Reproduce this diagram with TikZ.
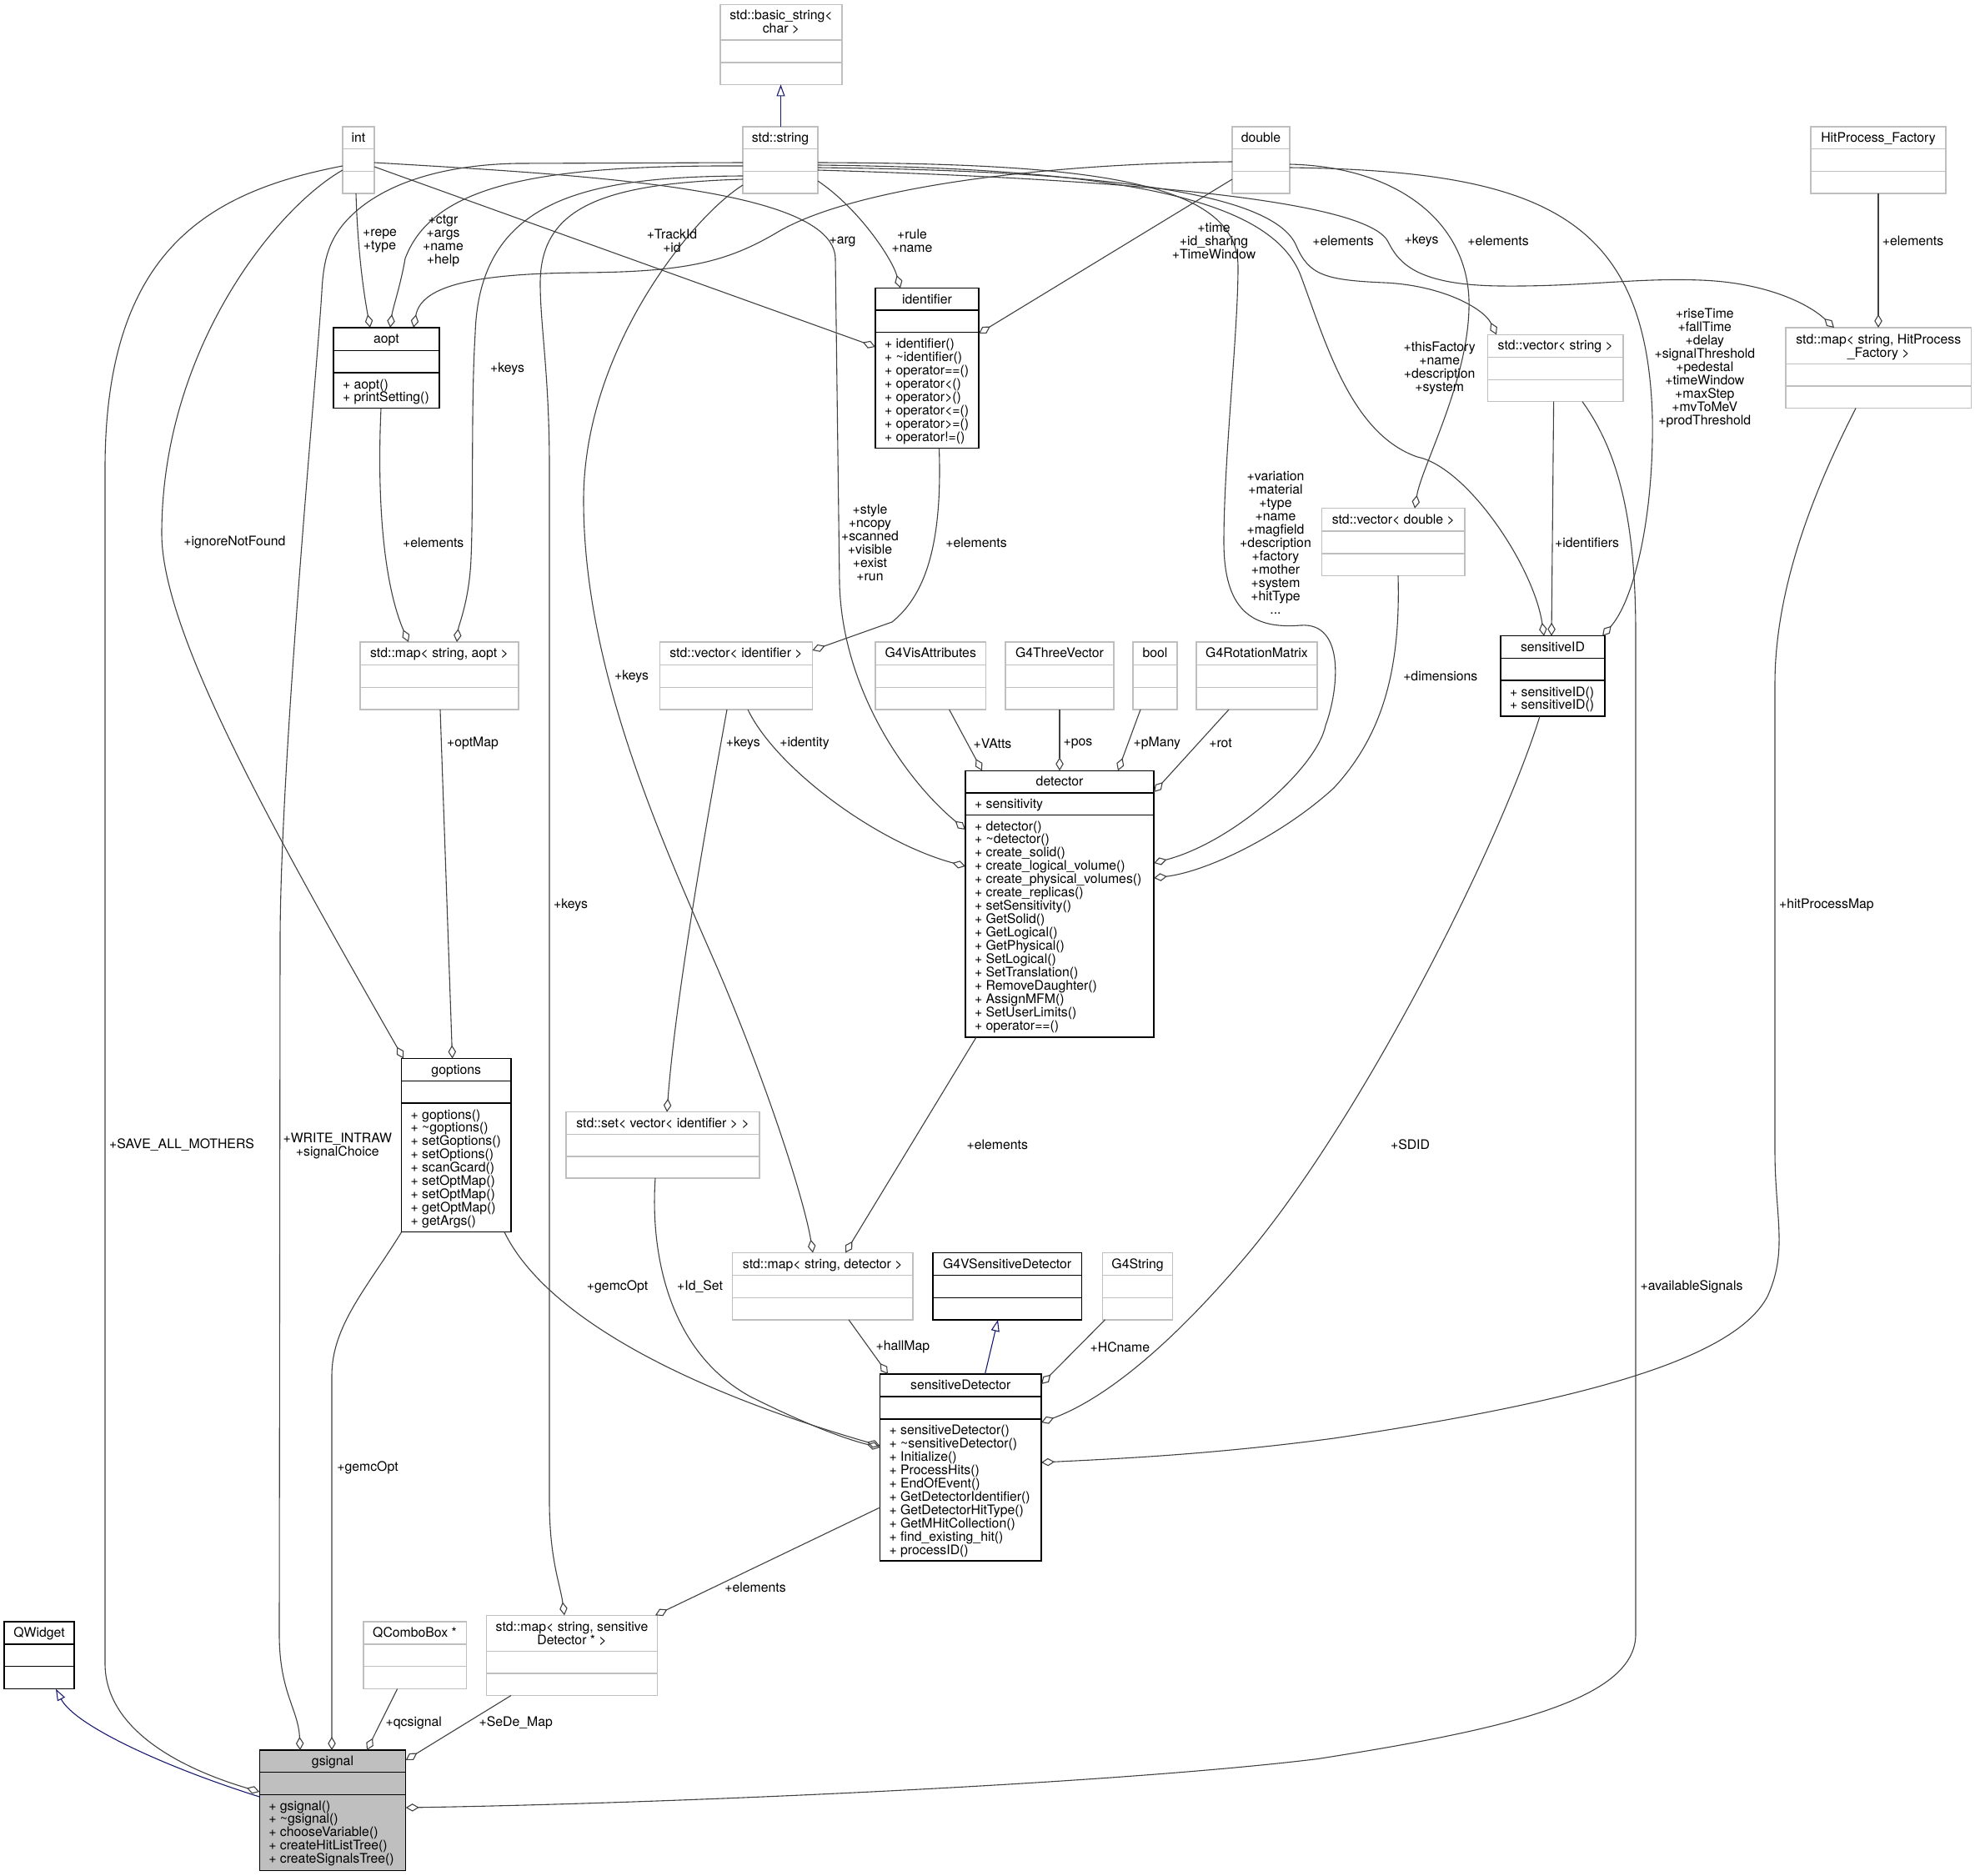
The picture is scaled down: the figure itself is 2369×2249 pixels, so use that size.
\documentclass[tikz,border=0pt]{standalone}
\usepackage{fontspec}
\setmainfont{TeX Gyre Heros}
\usetikzlibrary{arrows.meta}
\definecolor{grey75}{HTML}{BFBFBF}
\definecolor{edgec}{HTML}{404040}
\definecolor{navyc}{HTML}{191970}
\tikzset{
  txt/.style={font=\fontsize{15.8}{15.95}\selectfont, inner sep=0pt, outer sep=0pt},
  lab/.style={txt, align=center},
  ext/.style={draw=grey75, fill=white, line width=1.4pt, rectangle, inner sep=0pt, outer sep=0pt},
  extsep/.style={draw=grey75, line width=1.4pt},
  doc/.style={draw=black, fill=white, line width=1.4pt, rectangle, inner sep=0pt, outer sep=0pt},
  docsep/.style={draw=black, line width=1.4pt},
  sig/.style={doc, fill=grey75},
  sigsep/.style={docsep},
  agg/.style={draw=edgec, line width=1.1pt, -{Diamond[open, length=16pt, width=9.5pt]}},
  inh/.style={draw=navyc, line width=1.1pt, -{Triangle[open, length=14pt, width=10pt]}},
}
\newcommand{\umlclass}[8][ext]{%
  \node[#1, anchor=north west, minimum width={(#5-#3)*1pt}, minimum height={(#6-#4)*1pt}] (#2) at (#3,#4) {};
  \draw[#1sep] (#3,#7) -- (#5,#7);
  \draw[#1sep] (#3,#8) -- (#5,#8);
}
\newcommand{\ctitle}[3]{\node[txt, anchor=base] at (#1,#2) {#3};}
\newcommand{\mlist}[3]{\foreach \mm [count=\ii] in {#3} {\node[txt, anchor=base west] at (#1, {#2+(\ii-1)*15.95}) {\mm};}}
\begin{document}
\begin{tikzpicture}[x=1pt,y=-1pt]
\useasboundingbox (0,0) rectangle (2369,2249);

% ---------------- classes ----------------
\umlclass{nBasic}{864}{5.4}{1010}{101.4}{48}{75}
\ctitle{937}{23}{std::basic\_string<}
\ctitle{937}{39}{char >}
\umlclass{nStr}{891}{152}{981}{232}{178.5}{205.5}
\ctitle{936}{170.5}{std::string}
\umlclass{nInt}{411}{152}{449}{232}{178.5}{205.5}
\ctitle{430}{170.5}{int}
\umlclass{nDbl}{1478}{152}{1547}{232}{178.5}{205.5}
\ctitle{1512.5}{170.5}{double}
\umlclass{nHPF}{2172}{152}{2334}{232}{178.5}{205.5}
\ctitle{2253}{170.5}{HitProcess\_Factory}
\umlclass[doc]{nAopt}{400}{393}{527}{489.6}{420.4}{447}
\ctitle{463.5}{411.5}{aopt}
\mlist{411}{466}{+ aopt(),+ printSetting()}
\umlclass[doc]{nIdent}{1050}{345.5}{1174}{537.6}{372}{398.5}
\ctitle{1112}{364}{identifier}
\mlist{1061}{417.5}{+ identifier(),+ \textasciitilde identifier(),+ operator==(),+ operator<(),+ operator>(),+ operator<=(),+ operator>=(),+ operator!=()}
\umlclass{nVecStr}{1784.5}{401.4}{1947}{481.7}{428.3}{455.2}
\ctitle{1865.75}{419.9}{std::vector< string >}
\umlclass{nMapHPF}{2142}{393}{2364.5}{489.6}{436.5}{463}
\ctitle{2253.25}{412}{std::map< string, HitProcess}
\ctitle{2253.25}{428}{\_Factory >}
\umlclass{nVecDbl}{1585.5}{609.7}{1757}{690.3}{636.9}{663.8}
\ctitle{1671.25}{628.2}{std::vector< double >}
\umlclass[doc]{nSensID}{1800}{762.7}{1925}{859}{789.2}{816.1}
\ctitle{1862.5}{781.2}{sensitiveID}
\mlist{1811}{835}{+ sensitiveID(),+ sensitiveID()}
\umlclass{nMapAopt}{432}{770}{622}{851}{797.5}{824.4}
\ctitle{527}{788.5}{std::map< string, aopt >}
\umlclass{nVecId}{791.5}{770}{974.5}{851}{797.5}{824.4}
\ctitle{883}{788.5}{std::vector< identifier >}
\umlclass{nVis}{1050}{770}{1182.5}{851}{797.5}{824.4}
\ctitle{1116.25}{788.5}{G4VisAttributes}
\umlclass{nThree}{1206}{770}{1336}{851}{797.5}{824.4}
\ctitle{1271}{788.5}{G4ThreeVector}
\umlclass{nBool}{1359}{770}{1412}{851}{797.5}{824.4}
\ctitle{1385.5}{788.5}{bool}
\umlclass{nRot}{1435}{770}{1580}{851}{797.5}{824.4}
\ctitle{1507.5}{788.5}{G4RotationMatrix}
\umlclass[doc]{nDet}{1158}{924.3}{1384}{1244}{951}{977.7}
\ctitle{1271}{942.8}{detector}
\node[txt, anchor=base west] at (1169,969.5) {+ sensitivity};
\mlist{1169}{996}{+ detector(),+ \textasciitilde detector(),+ create\_solid(),+ create\_logical\_volume(),+ create\_physical\_volumes(),+ create\_replicas(),+ setSensitivity(),+ GetSolid(),+ GetLogical(),+ GetPhysical(),+ SetLogical(),+ SetTranslation(),+ RemoveDaughter(),+ AssignMFM(),+ SetUserLimits(),+ operator==()}
\umlclass[doc]{nGopt}{481.6}{1269.5}{613}{1477.7}{1296.4}{1322.9}
\ctitle{547.3}{1288}{goptions}
\mlist{492.6}{1342}{+ goptions(),+ \textasciitilde goptions(),+ setGoptions(),+ setOptions(),+ scanGcard(),+ setOptMap(),+ setOptMap(),+ getOptMap(),+ getArgs()}
\umlclass{nSet}{679}{1333.7}{911}{1413}{1360.2}{1387.1}
\ctitle{795}{1352.2}{std::set< vector< identifier > >}
\umlclass{nMapDet}{878.7}{1502.5}{1094.8}{1582.8}{1529.7}{1556.2}
\ctitle{986.75}{1521}{std::map< string, detector >}
\umlclass[doc]{nG4VSD}{1119}{1502.5}{1297.3}{1582.8}{1529.7}{1556.2}
\ctitle{1208.15}{1521}{G4VSensitiveDetector}
\umlclass{nG4Str}{1322.5}{1502.5}{1406.7}{1582.8}{1529.7}{1556.2}
\ctitle{1364.6}{1521}{G4String}
\umlclass[doc]{nSensDet}{1055.5}{1648}{1249}{1872}{1675}{1701.8}
\ctitle{1152.25}{1666.5}{sensitiveDetector}
\mlist{1066.5}{1720.5}{+ sensitiveDetector(),+ \textasciitilde sensitiveDetector(),+ Initialize(),+ ProcessHits(),+ EndOfEvent(),+ GetDetectorIdentifier(),+ GetDetectorHitType(),+ GetMHitCollection(),+ find\_existing\_hit(),+ processID()}
\umlclass[doc]{nQW}{5}{1945}{89}{2025.6}{1972.1}{1998.7}
\ctitle{47}{1963.5}{QWidget}
\umlclass{nQCB}{435.8}{1945}{559.2}{2025.6}{1972.1}{1998.7}
\ctitle{497.5}{1963.5}{QComboBox *}
\umlclass{nMapSD}{583.4}{1937.3}{788.6}{2033.5}{1980.7}{2007}
\ctitle{686}{1956}{std::map< string, sensitive}
\ctitle{686}{1972}{Detector * >}
\umlclass[sig]{nGsig}{311.3}{2099}{486.7}{2243.2}{2125.4}{2152.3}
\ctitle{399}{2117.5}{gsignal}
\mlist{322.3}{2171}{+ gsignal(),+ \textasciitilde gsignal(),+ chooseVariable(),+ createHitListTree(),+ createSignalsTree()}

% ---------------- inheritance ----------------
\draw[inh] (936.5,0 |- nStr.north) -- (936.5,0 |- nBasic.south);
\draw[inh] (nGsig.west |- 0,2155) .. controls (200,2120) and (90,2070) .. (67,0 |- nQW.south);
\draw[inh] (1181.5,0 |- nSensDet.north) -- (1197,0 |- nG4VSD.south);

% ---------------- aggregation ----------------
% int
\draw[agg] (nInt.west |- 0,199) .. controls (250,230) and (126,300) .. (126,562) -- (126,1995) .. controls (126,2080) and (230,2125) .. (nGsig.west |- 0,2149);
\draw[agg] (nInt.west |- 0,204) .. controls (330,250) and (194,420) .. (194,640) .. controls (194,760) and (330,1000) .. (484,0 |- nGopt.north);
\draw[agg] (427,0 |- nInt.south) .. controls (429,300) and (436,350) .. (444,0 |- nAopt.north);
\draw[agg] (nInt.east |- 0,200) -- (nIdent.west |- 0,416);
\draw[agg] (nInt.east |- 0,195) .. controls (700,210) and (1000,225) .. (1002,310) -- (1007,700) .. controls (1010,820) and (1080,930) .. (nDet.west |- 0,995);
% std::string, left side
\draw[agg] (nStr.west |- 0,195) -- (620,196) .. controls (520,198) and (455,225) .. (420,260) .. controls (395,285) and (388,310) .. (386,350) .. controls (380,450) and (337,900) .. (336,1124) -- (335,1960) .. controls (335,2030) and (358,2050) .. (360,0 |- nGsig.north);
\draw[agg] (nStr.west |- 0,199) .. controls (650,198) and (520,220) .. (486,310) .. controls (481,340) and (471,370) .. (468,0 |- nAopt.north);
\draw[agg] (nStr.west |- 0,211) .. controls (700,212) and (575,240) .. (570,400) .. controls (565,480) and (568,600) .. (565,670) .. controls (563,720) and (550,750) .. (548,0 |- nMapAopt.north);
\draw[agg] (nStr.west |- 0,215) .. controls (720,220) and (648,250) .. (648,340) .. controls (648,390) and (659,450) .. (659,560) -- (659,1800) .. controls (659,1870) and (672,1900) .. (677,0 |- nMapSD.north);
\draw[agg] (nStr.west |- 0,222) .. controls (830,260) and (700,420) .. (700,600) .. controls (700,800) and (790,1000) .. (860,1160) .. controls (920,1300) and (965,1440) .. (975,0 |- nMapDet.north);
% std::string, right side
\draw[agg] (nStr.east |- 0,217) .. controls (1030,250) and (1070,310) .. (1080,0 |- nIdent.north);
\draw[agg] (nStr.east |- 0,195) .. controls (1300,196) and (1485,215) .. (1485,320) .. controls (1485,400) and (1468,550) .. (1468,650) .. controls (1468,730) and (1500,755) .. (1560,750) .. controls (1615,746) and (1605,830) .. (1590,870) .. controls (1580,920) and (1480,1010) .. (nDet.east |- 0,1035);
\draw[agg] (nStr.east |- 0,198) .. controls (1350,202) and (1525,240) .. (1560,330) .. controls (1590,410) and (1620,520) .. (1700,548) .. controls (1760,560) and (1840,680) .. (1852,0 |- nSensID.north);
\draw[agg] (nStr.east |- 0,201) .. controls (1350,205) and (1530,235) .. (1555,295) .. controls (1570,330) and (1590,336) .. (1660,339) .. controls (1730,342) and (1780,370) .. (1795,0 |- nVecStr.north);
\draw[agg] (nStr.east |- 0,204) .. controls (1350,215) and (1640,240) .. (1665,290) .. controls (1678,316) and (1700,342) .. (1800,343) .. controls (1900,344) and (1960,333) .. (2040,336) .. controls (2120,339) and (2170,365) .. (2200,0 |- nMapHPF.north);
% double
\draw[agg] (nDbl.west |- 0,194) .. controls (1250,196) and (1020,225) .. (930,280) .. controls (870,315) and (820,326) .. (700,327) .. controls (560,328) and (505,345) .. (496,0 |- nAopt.north);
\draw[agg] (nDbl.west |- 0,215) -- (nIdent.east |- 0,400);
\draw[agg] (nDbl.east |- 0,197) .. controls (1680,200) and (1765,270) .. (1762,370) .. controls (1760,460) and (1705,560) .. (1697,0 |- nVecDbl.north);
\draw[agg] (nDbl.east |- 0,201) .. controls (1850,205) and (1975,260) .. (1982,500) .. controls (1984,620) and (1960,720) .. (1922,0 |- nSensID.north);
% others
\draw[agg] (2253,0 |- nHPF.south) -- (2253,0 |- nMapHPF.north);
\draw[agg] (2226,0 |- nMapHPF.south) .. controls (2180,580) and (2129,700) .. (2129,820) -- (2129,1380) .. controls (2129,1460) and (2145,1500) .. (2120,1555) .. controls (2080,1630) and (1900,1680) .. (1600,1725) .. controls (1450,1745) and (1330,1750) .. (nSensDet.east |- 0,1754);
\draw[agg] (1863.6,0 |- nVecStr.south) -- (1861,0 |- nSensID.north);
\draw[agg] (1898,0 |- nVecStr.south) .. controls (1940,540) and (1962,620) .. (1962,760) -- (1962,1960) .. controls (1962,2040) and (1800,2075) .. (1580,2109.6) .. controls (1330,2140) and (800,2163) .. (nGsig.east |- 0,2168);
\draw[agg] (1847,0 |- nSensID.south) .. controls (1800,1010) and (1640,1330) .. (1500,1500) .. controls (1400,1620) and (1320,1680) .. (nSensDet.east |- 0,1706);
\draw[agg] (1677,0 |- nVecDbl.south) .. controls (1680,800) and (1660,880) .. (1600,945) .. controls (1540,1000) and (1450,1045) .. (nDet.east |- 0,1053);
\draw[agg] (457,0 |- nAopt.south) .. controls (452,600) and (460,700) .. (490,0 |- nMapAopt.north);
\draw[agg] (528,0 |- nMapAopt.south) -- (542.6,0 |- nGopt.north);
\draw[agg] (nGopt.south west) .. controls (440,1545) and (398,1590) .. (398,1650) -- (398,0 |- nGsig.north);
\draw[agg] (605,0 |- nGopt.south) .. controls (650,1570) and (800,1660) .. (nSensDet.west |- 0,1734);
\draw[agg] (786,0 |- nSet.south) .. controls (780,1500) and (800,1620) .. (900,1675) .. controls (960,1705) and (1010,1725) .. (nSensDet.west |- 0,1736);
\draw[agg] (872,0 |- nVecId.south) .. controls (845,1000) and (810,1200) .. (800,0 |- nSet.north);
\draw[agg] (897,0 |- nVecId.south) .. controls (930,920) and (1050,1010) .. (nDet.west |- 0,1039);
\draw[agg] (1126.5,0 |- nIdent.south) .. controls (1130,640) and (1115,710) .. (1070,746) -- (nVecId.east |- 0,780);
\draw[agg] (1138.6,0 |- nVis.south) -- (1178,0 |- nDet.north);
\draw[agg] (1271,0 |- nThree.south) -- (1271,0 |- nDet.north);
\draw[agg] (1368,0 |- nBool.south) -- (1341,0 |- nDet.north);
\draw[agg] (1474,0 |- nRot.south) -- (nDet.east |- 0,950);
\draw[agg] (1171,0 |- nDet.south) -- (1014,0 |- nMapDet.north);
\draw[agg] (1018,0 |- nMapDet.south) -- (1065,0 |- nSensDet.north);
\draw[agg] (1325.5,0 |- nG4Str.south) -- (nSensDet.east |- 0,1660);
\draw[agg] (nSensDet.west |- 0,1808) -- (786,0 |- nMapSD.north);
\draw[agg] (613,0 |- nMapSD.south) -- (nGsig.east |- 0,2111);
\draw[agg] (476.6,0 |- nQCB.south) -- (440,0 |- nGsig.north);

% ---------------- labels ----------------
\node[lab] at (455.5,289.4) {+repe\\+type};
\node[lab] at (531.5,289) {+ctgr\\+args\\+name\\+help};
\node[lab] at (806,289) {+TrackId\\+id};
\node[lab] at (1010.5,289.6) {+arg};
\node[lab] at (1094,289) {+rule\\+name};
\node[lab] at (1456,289) {+time\\+id\_sharing\\+TimeWindow};
\node[lab] at (1611,288.5) {+elements};
\node[lab] at (1705,288.5) {+keys};
\node[lab] at (1797,288.5) {+elements};
\node[lab] at (2294.6,288.5) {+elements};
\node[lab] at (1726.7,441.8) {+thisFactory\\+name\\+description\\+system};
\node[lab] at (2044.8,441.4) {+riseTime\\+fallTime\\+delay\\+signalThreshold\\+pedestal\\+timeWindow\\+maxStep\\+mvToMeV\\+prodThreshold};
\node[lab] at (608.5,442) {+keys};
\node[lab] at (281.4,650.5) {+ignoreNotFound};
\node[lab] at (519.7,650.5) {+elements};
\node[lab] at (757.5,811) {+keys};
\node[lab] at (567,891.7) {+optMap};
\node[lab] at (684.6,1085.3) {+keys};
\node[lab] at (1043.5,650.7) {+style\\+ncopy\\+scanned\\+visible\\+exist\\+run};
\node[lab] at (1171,650.5) {+elements};
\node[lab] at (1530,651) {+variation\\+material\\+type\\+name\\+magfield\\+description\\+factory\\+mother\\+system\\+hitType\\...};
\node[lab] at (1903.6,650.5) {+identifiers};
\node[lab] at (1727.8,810.4) {+dimensions};
\node[lab] at (891.3,891.7) {+keys};
\node[lab] at (965,891.7) {+identity};
\node[lab] at (1190.5,891.7) {+VAtts};
\node[lab] at (1293,891.7) {+pos};
\node[lab] at (1387.8,891.7) {+pMany};
\node[lab] at (1464,891.7) {+rot};
\node[lab] at (218,1373) {+SAVE\_ALL\_MOTHERS};
\node[lab] at (404.8,1374) {+WRITE\_INTRAW\\+signalChoice};
\node[lab] at (740.6,1543.3) {+gemcOpt};
\node[lab] at (1196.3,1373) {+elements};
\node[lab] at (839.6,1542.6) {+Id\_Set};
\node[lab] at (1082.8,1615.7) {+hallMap};
\node[lab] at (1343.4,1615.7) {+HCname};
\node[lab] at (1691.5,1373) {+SDID};
\node[lab] at (2029,1543.3) {+availableSignals};
\node[lab] at (2190.9,1085.3) {+hitProcessMap};
\node[lab] at (441,1760.7) {+gemcOpt};
\node[lab] at (906,1904.3) {+elements};
\node[lab] at (496.2,2066.5) {+qcsignal};
\node[lab] at (618.7,2066.5) {+SeDe\_Map};
\end{tikzpicture}
\end{document}
